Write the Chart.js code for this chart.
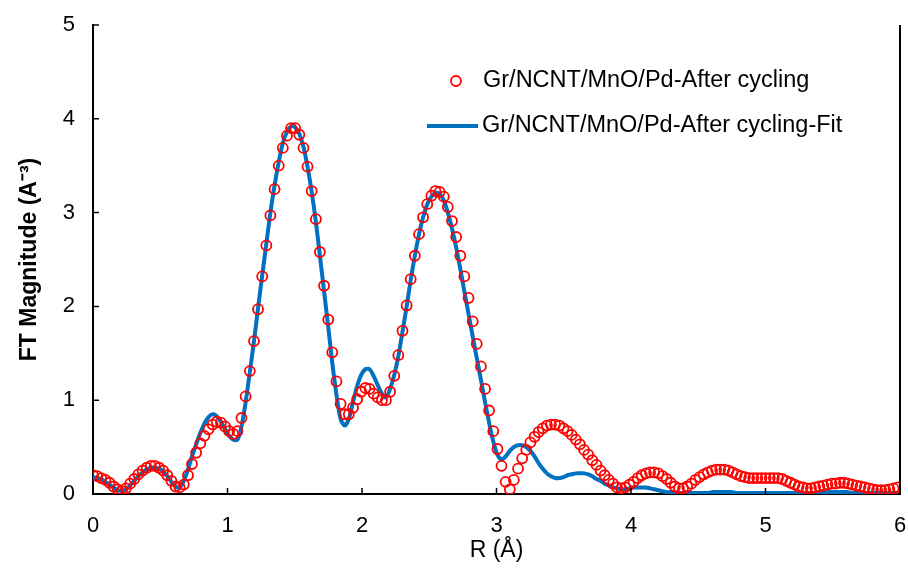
<!DOCTYPE html>
<html>
<head>
<meta charset="utf-8">
<script src="https://cdn.jsdelivr.net/npm/chart.js@4.4.1/dist/chart.umd.min.js"></script>
<style>
  body { margin: 0; background: #fff; }
  canvas { display: block; }
</style>
</head>
<body>
<canvas id="ftChart" width="908" height="572"></canvas>
<script>
// R grid (Å)
const rValues = [
  0.000, 0.031, 0.061, 0.092, 0.123, 0.153, 0.184, 0.215, 0.245, 0.276,
  0.307, 0.337, 0.368, 0.399, 0.430, 0.460, 0.491, 0.522, 0.552, 0.583,
  0.614, 0.644, 0.675, 0.706, 0.736, 0.767, 0.798, 0.828, 0.859, 0.890,
  0.920, 0.951, 0.982, 1.012, 1.043, 1.074, 1.104, 1.135, 1.166, 1.197,
  1.227, 1.258, 1.289, 1.319, 1.350, 1.381, 1.411, 1.442, 1.473, 1.503,
  1.534, 1.565, 1.595, 1.626, 1.657, 1.687, 1.718, 1.749, 1.779, 1.810,
  1.841, 1.871, 1.902, 1.933, 1.964, 1.994, 2.025, 2.056, 2.086, 2.117,
  2.148, 2.178, 2.209, 2.240, 2.270, 2.301, 2.332, 2.362, 2.393, 2.424,
  2.454, 2.485, 2.516, 2.546, 2.577, 2.608, 2.638, 2.669, 2.700, 2.731,
  2.761, 2.792, 2.823, 2.853, 2.884, 2.915, 2.945, 2.976, 3.007, 3.037,
  3.068, 3.099, 3.129, 3.160, 3.191, 3.221, 3.252, 3.283, 3.313, 3.344,
  3.375, 3.405, 3.436, 3.467, 3.498, 3.528, 3.559, 3.590, 3.620, 3.651,
  3.682, 3.712, 3.743, 3.774, 3.804, 3.835, 3.866, 3.896, 3.927, 3.958,
  3.988, 4.019, 4.050, 4.080, 4.111, 4.142, 4.172, 4.203, 4.234, 4.265,
  4.295, 4.326, 4.357, 4.387, 4.418, 4.449, 4.479, 4.510, 4.541, 4.571,
  4.602, 4.633, 4.663, 4.694, 4.725, 4.755, 4.786, 4.817, 4.847, 4.878,
  4.909, 4.939, 4.970, 5.001, 5.032, 5.062, 5.093, 5.124, 5.154, 5.185,
  5.216, 5.246, 5.277, 5.308, 5.338, 5.369, 5.400, 5.430, 5.461, 5.492,
  5.522, 5.553, 5.584, 5.614, 5.645, 5.676, 5.706, 5.737, 5.768, 5.799,
  5.829, 5.860, 5.891, 5.921, 5.952, 5.983
];

// measured FT magnitude (red circles)
const measured = [
  0.20, 0.19, 0.17, 0.15, 0.12, 0.08, 0.05, 0.03, 0.06, 0.11,
  0.16, 0.21, 0.25, 0.28, 0.30, 0.30, 0.28, 0.25, 0.20, 0.14,
  0.08, 0.07, 0.10, 0.20, 0.32, 0.44, 0.54, 0.62, 0.69, 0.74,
  0.77, 0.76, 0.72, 0.67, 0.64, 0.67, 0.81, 1.04, 1.31, 1.63,
  1.97, 2.32, 2.65, 2.97, 3.25, 3.50, 3.69, 3.82, 3.90, 3.90,
  3.83, 3.69, 3.49, 3.23, 2.93, 2.58, 2.22, 1.86, 1.51, 1.20,
  0.96, 0.85, 0.85, 0.92, 1.01, 1.09, 1.13, 1.12, 1.07, 1.03,
  1.00, 1.00, 1.09, 1.26, 1.48, 1.74, 2.01, 2.29, 2.54, 2.77,
  2.95, 3.09, 3.18, 3.23, 3.22, 3.17, 3.06, 2.91, 2.74, 2.54,
  2.32, 2.09, 1.84, 1.60, 1.36, 1.12, 0.89, 0.67, 0.48, 0.30,
  0.13, 0.05, 0.15, 0.27, 0.38, 0.47, 0.55, 0.61, 0.66, 0.70,
  0.73, 0.74, 0.74, 0.73, 0.70, 0.67, 0.63, 0.58, 0.53, 0.47,
  0.42, 0.36, 0.31, 0.25, 0.20, 0.15, 0.11, 0.07, 0.06, 0.07,
  0.10, 0.13, 0.17, 0.20, 0.22, 0.23, 0.23, 0.22, 0.19, 0.16,
  0.12, 0.08, 0.06, 0.06, 0.08, 0.11, 0.15, 0.18, 0.21, 0.23,
  0.25, 0.26, 0.26, 0.26, 0.25, 0.23, 0.21, 0.19, 0.18, 0.17,
  0.17, 0.17, 0.17, 0.17, 0.17, 0.17, 0.17, 0.16, 0.14, 0.12,
  0.10, 0.08, 0.07, 0.06, 0.06, 0.07, 0.08, 0.09, 0.10, 0.11,
  0.11, 0.12, 0.12, 0.11, 0.10, 0.09, 0.08, 0.07, 0.06, 0.05,
  0.04, 0.04, 0.04, 0.05, 0.06, 0.07
];

// fitted curve (blue line)
const fitted = [
  0.18, 0.17, 0.16, 0.13, 0.10, 0.07, 0.04, 0.03, 0.05, 0.09,
  0.14, 0.19, 0.23, 0.26, 0.28, 0.28, 0.27, 0.24, 0.19, 0.13,
  0.08, 0.07, 0.14, 0.26, 0.40, 0.53, 0.65, 0.75, 0.82, 0.85,
  0.83, 0.77, 0.69, 0.62, 0.58, 0.58, 0.72, 0.98, 1.30, 1.63,
  1.98, 2.33, 2.67, 3.00, 3.29, 3.54, 3.74, 3.86, 3.92, 3.91,
  3.84, 3.70, 3.49, 3.22, 2.90, 2.54, 2.16, 1.78, 1.40, 1.06,
  0.80, 0.73, 0.80, 0.98, 1.15, 1.27, 1.33, 1.33, 1.26, 1.16,
  1.07, 1.03, 1.12, 1.27, 1.47, 1.73, 2.00, 2.28, 2.54, 2.77,
  2.95, 3.09, 3.17, 3.21, 3.20, 3.13, 3.00, 2.83, 2.63, 2.40,
  2.16, 1.92, 1.68, 1.45, 1.22, 0.98, 0.76, 0.56, 0.42, 0.37,
  0.40, 0.46, 0.50, 0.52, 0.52, 0.50, 0.46, 0.40, 0.33, 0.27,
  0.22, 0.19, 0.17, 0.17, 0.18, 0.20, 0.21, 0.22, 0.22, 0.22,
  0.21, 0.19, 0.16, 0.14, 0.11, 0.09, 0.07, 0.06, 0.05, 0.05,
  0.06, 0.07, 0.07, 0.07, 0.07, 0.06, 0.05, 0.04, 0.03, 0.02,
  0.02, 0.01, 0.01, 0.01, 0.01, 0.01, 0.01, 0.01, 0.01, 0.01,
  0.02, 0.02, 0.02, 0.02, 0.02, 0.02, 0.01, 0.01, 0.01, 0.01,
  0.01, 0.01, 0.01, 0.01, 0.01, 0.01, 0.01, 0.01, 0.01, 0.01,
  0.01, 0.01, 0.01, 0.01, 0.01, 0.01, 0.01, 0.01, 0.02, 0.02,
  0.02, 0.02, 0.02, 0.02, 0.01, 0.01, 0.01, 0.01, 0.01, 0.01,
  0.01, 0.01, 0.01, 0.01, 0.01, 0.01
];

const xTicks = [0, 1, 2, 3, 4, 5, 6];
const yTicks = [0, 1, 2, 3, 4, 5];

const measuredLabel = 'Gr/NCNT/MnO/Pd-After cycling';
const fitLabel = 'Gr/NCNT/MnO/Pd-After cycling-Fit';

const FONT = "'Liberation Sans', Arial, sans-serif";
const RED = '#FF0000';
const BLUE = '#0070C0';

// inside tick marks, right frame line and the in-plot legend
const framePlugin = {
    id: 'frame',
    afterDraw(chart) {
        const ctx = chart.ctx;
        const area = chart.chartArea;
        const xs = chart.scales.x;
        const ys = chart.scales.y;
        ctx.save();
        ctx.strokeStyle = '#000';
        ctx.lineWidth = 1.5;
        ctx.beginPath();
        xTicks.forEach(function(v) {
            const px = xs.getPixelForValue(v);
            ctx.moveTo(px, area.bottom);
            ctx.lineTo(px, area.bottom - 6);
        });
        yTicks.forEach(function(v) {
            const py = ys.getPixelForValue(v);
            ctx.moveTo(area.left, py);
            ctx.lineTo(area.left + 6, py);
        });
        ctx.stroke();

        ctx.lineWidth = 2;
        ctx.beginPath();
        ctx.moveTo(area.right, area.top);
        ctx.lineTo(area.right, area.bottom + 1);
        ctx.stroke();

        // legend
        const y1 = area.top + 56;
        const y2 = area.top + 101;
        ctx.strokeStyle = RED;
        ctx.lineWidth = 1.8;
        ctx.beginPath();
        ctx.arc(area.left + 363, y1, 5, 0, Math.PI * 2);
        ctx.stroke();

        ctx.strokeStyle = BLUE;
        ctx.lineWidth = 4;
        ctx.beginPath();
        ctx.moveTo(area.left + 334, y2);
        ctx.lineTo(area.left + 385, y2);
        ctx.stroke();

        ctx.fillStyle = '#000';
        ctx.font = '23.5px ' + FONT;
        ctx.textBaseline = 'middle';
        ctx.textAlign = 'left';
        ctx.fillText(measuredLabel, area.left + 390, y1);
        ctx.fillText(fitLabel, area.left + 389, y2);
        ctx.restore();
    }
};

document.addEventListener('DOMContentLoaded', function() {
    const ctx = document.getElementById('ftChart').getContext('2d');

    new Chart(ctx, {
        type: 'scatter',
        data: {
            datasets: [{
                label: measuredLabel,
                data: rValues.map(function(r, i) { return { x: r, y: measured[i] }; }),
                showLine: false,
                pointStyle: 'circle',
                pointRadius: 5,
                pointBorderWidth: 1.8,
                borderColor: RED,
                backgroundColor: 'rgba(0,0,0,0)'
            }, {
                label: fitLabel,
                data: rValues.map(function(r, i) { return { x: r, y: fitted[i] }; }),
                showLine: true,
                pointRadius: 0,
                borderColor: BLUE,
                backgroundColor: BLUE,
                borderWidth: 4,
                tension: 0.3
            }]
        },
        options: {
            responsive: false,
            animation: false,
            layout: {
                padding: { top: 25, right: 8, left: 0, bottom: 0 }
            },
            scales: {
                x: {
                    type: 'linear',
                    min: 0,
                    max: 6,
                    afterBuildTicks: function(scale) {
                        scale.ticks = xTicks.map(function(v) { return { value: v }; });
                    },
                    afterFit: function(scale) {
                        scale.height = 78;
                        scale.paddingLeft = 0;
                        scale.paddingRight = 0;
                    },
                    grid: { display: false },
                    border: { display: true, color: '#000', width: 2 },
                    ticks: {
                        color: '#000',
                        padding: 11,
                        font: { family: FONT, size: 22 }
                    },
                    title: {
                        display: true,
                        text: 'R (Å)',
                        color: '#000',
                        padding: { top: 0, bottom: 8 },
                        font: { family: FONT, size: 23 }
                    }
                },
                y: {
                    type: 'linear',
                    min: 0,
                    max: 5,
                    afterBuildTicks: function(scale) {
                        scale.ticks = yTicks.map(function(v) { return { value: v }; });
                    },
                    afterFit: function(scale) {
                        scale.width = 93;
                        scale.paddingTop = 0;
                        scale.paddingBottom = 0;
                    },
                    grid: { display: false },
                    border: { display: true, color: '#000', width: 2 },
                    ticks: {
                        color: '#000',
                        padding: 10,
                        font: { family: FONT, size: 22 }
                    },
                    title: {
                        display: true,
                        text: 'FT Magnitude (A⁻³)',
                        color: '#000',
                        padding: { top: 16, bottom: 0 },
                        font: { family: FONT, size: 23, weight: 'bold' }
                    }
                }
            },
            plugins: {
                legend: { display: false },
                tooltip: { enabled: false }
            }
        },
        plugins: [framePlugin]
    });
});
</script>
</body>
</html>
